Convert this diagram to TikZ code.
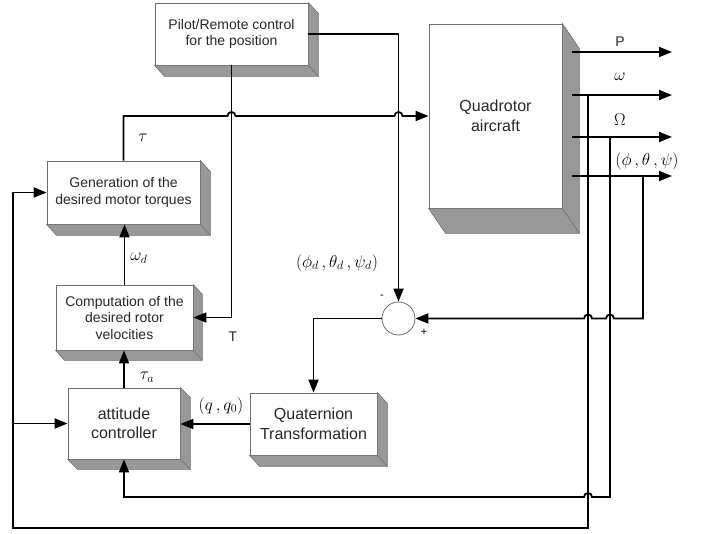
\documentclass[tikz,border=0pt]{standalone}
\usepackage[no-math]{fontspec}
\setmainfont{Liberation Sans}
\usepackage{tikz}
\usetikzlibrary{calc,arrows.meta}
\usepackage{xcolor}
\definecolor{boxgray}{RGB}{110,110,110}
\definecolor{slabgray}{RGB}{152,152,152}
\definecolor{txtgray}{RGB}{40,40,40}
% extruded side of a block: node name, depth x, depth y
\newcommand{\slab}[3]{%
  \filldraw[fill=slabgray,draw=boxgray,line width=0.6pt] (#1.north east) -- ++(#2,#3)
    -- ($(#1.south east)+(#2,#3)$) -- ($(#1.south west)+(#2,#3)$)
    -- (#1.south west) -- (#1.south east) -- cycle;
  \draw[boxgray,line width=0.6pt] (#1.south east) -- ++(#2,#3);}

\begin{document}
\begin{tikzpicture}[x=1pt,y=-1pt,
block/.style={draw=boxgray,fill=white,line width=0.8pt,align=center,inner sep=0pt,
  text=txtgray,font=\fontsize{14}{16.5}\selectfont},
bigtext/.style={font=\fontsize{16}{19.5}\selectfont},
wire/.style={line width=1.8pt},
sig/.style={line width=1.8pt,-{Triangle[length=13pt,width=10pt]}},
sym/.style={font=\fontsize{17}{20}\selectfont},
sgn/.style={font=\fontsize{11}{13}\selectfont}]

\useasboundingbox (0,0) rectangle (706,534);

% blocks
\node[block,minimum width=153,minimum height=62] (pilot) at (231.5,34)
  {Pilot/Remote control\\for the position};
\node[block,bigtext,minimum width=133,minimum height=184] (quad) at (495.5,116)
  {Quadrotor\\aircraft};
\node[block,minimum width=153,minimum height=63] (gen) at (123.5,192.5)
  {Generation of the\\desired motor torques};
\node[block,minimum width=137,minimum height=65] (comp) at (124.5,317.5)
  {Computation of the\\desired rotor\\velocities};
\node[block,bigtext,minimum width=112,minimum height=71] (att) at (124,423.5)
  {attitude\\controller};
\node[block,bigtext,minimum width=127,minimum height=62] (quat) at (313.5,424)
  {Quaternion\\Transformation};
\node[circle,draw=boxgray,fill=white,line width=0.8pt,minimum size=33,inner sep=0pt]
  (sum) at (398.5,318.5) {};

\slab{pilot}{10}{11}
\slab{quad}{17}{25}
\slab{gen}{10}{11}
\slab{comp}{9}{10}
\slab{att}{10}{10}
\slab{quat}{10}{11}

% taps on the outputs of the aircraft
\coordinate (pout) at (572,52);
\coordinate (wout) at (572,95);
\coordinate (Wout) at (572,137);
\coordinate (aout) at (572,176);
\coordinate (pend) at (672,52);
\coordinate (wend) at (672,95);
\coordinate (Wend) at (672,137);
\coordinate (aend) at (672,176);
\coordinate (wtap) at (588,95);
\coordinate (Wtap) at (610,137);
\coordinate (atap) at (643,176);
\coordinate (wlow) at (588,528);
\coordinate (Wlow) at (610,497);
\coordinate (alow) at (643,318.5);
\coordinate (lft) at (13,528);

\draw[sig] (pout) -- (pend);
\draw[sig] (wout) -- (wend);
\draw[sig] (Wout) -- (Wend);
\draw[sig] (aout) -- (aend);

% forward path
\draw[sig] (pilot.east) -| (sum.north);
\draw[sig] (pilot.south) |- (comp.east);
\draw[sig] (gen.north) -- (gen.north |- quad.west)
  -- ($(pilot.south |- quad.west)+(-4,0)$) arc (180:360:4)
  -- ($(sum.north |- quad.west)+(-4,0)$) arc (180:360:4) -- (quad.west);
\draw[sig] (comp.north) -- (comp.north |- gen.south);
\draw[sig] (att.north) -- (att.north |- comp.south);
\draw[sig] (sum.west) -| (quat.north);
\draw[sig] (quat.west) -- (quat.west -| att.east);

% feedback paths
\draw[sig] (wtap) -- (wlow) -- (lft) |- (gen.west);
\draw[sig] (att.west -| lft) -- (att.west);
\draw[sig] (Wtap) -- (Wlow) -- ($(wlow |- Wlow)+(4,0)$) arc (0:-180:4)
  -- (att.south |- Wlow) -- (att.south);
\draw[sig] (atap) -- (alow) -- ($(Wlow |- alow)+(4,0)$) arc (0:-180:4)
  -- ($(wlow |- alow)+(4,0)$) arc (0:-180:4) -- (sum.east);

% signal labels
\node[sym] (ltau) at (143,138) {$\tau$};
\node[sym] (lwd) at (139,258) {$\omega_d$};
\node[block,draw=none,fill=none] (lT) at (233,337) {T};
\node[sym] (ltaua) at (147,377) {$\tau_a$};
\node[sym] (lq) at (221,406) {$(q\,,q_0)$};
\node[sym] (lang) at (337,263) {$(\phi_d\,,\theta_d\,,\psi_d)$};
\node[sgn] (lminus) at (382,297) {-};
\node[sgn] (lplus) at (424,332) {+};
\node[block,draw=none,fill=none] (lP) at (620,42) {P};
\node[sym] (lw) at (620,77) {$\omega$};
\node[sym] (lW) at (620,120) {$\Omega$};
\node[sym] (latt) at (647,161) {$(\phi\,,\theta\,,\psi)$};

\end{tikzpicture}
\end{document}
